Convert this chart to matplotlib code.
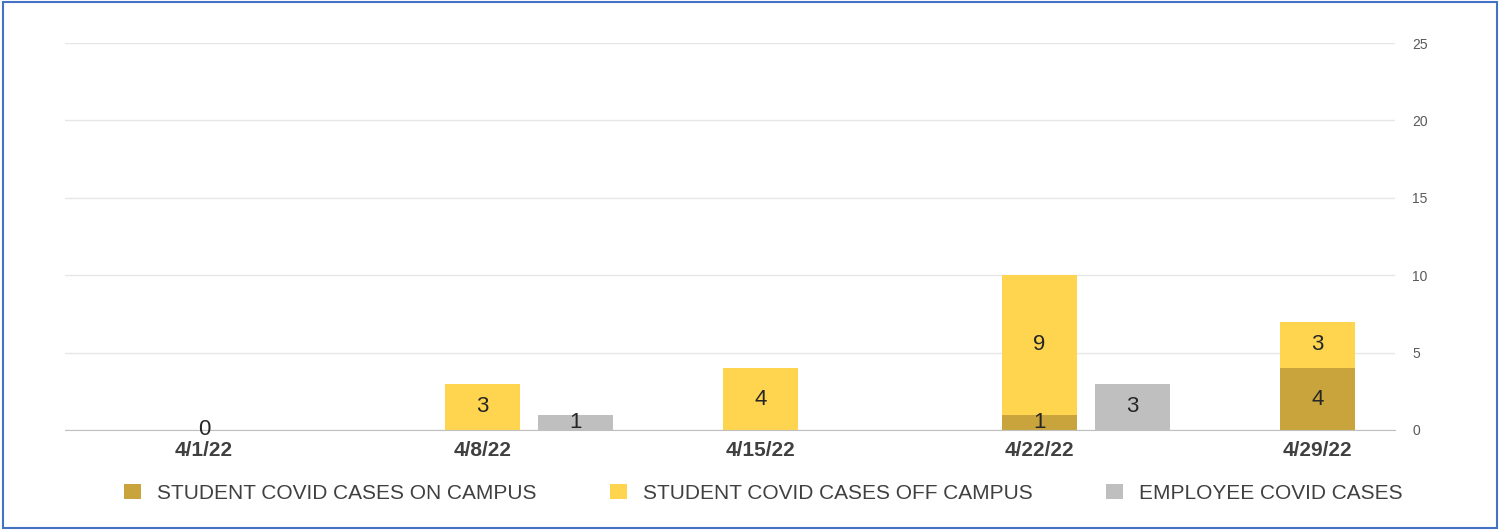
import numpy as np
import matplotlib.pyplot as plt
from matplotlib.patches import Rectangle

plt.rcParams['font.family'] = 'Liberation Sans'

dates = ['4/1/22', '4/8/22', '4/15/22', '4/22/22', '4/29/22']
on_campus = [0, 0, 0, 1, 4]
off_campus = [0, 3, 4, 9, 3]
employee = [0, 1, 0, 3, 0]

c_on = '#C9A43C'
c_off = '#FFD54F'
c_emp = '#BFBFBF'

fig = plt.figure(figsize=(15, 5.3), dpi=100)
ax = fig.add_axes([0.0433, 0.1887, 0.887, 0.730])

x = np.arange(len(dates))
w = 0.27
ax.bar(x, on_campus, w, color=c_on, label='STUDENT COVID CASES ON CAMPUS', zorder=2)
ax.bar(x, off_campus, w, bottom=on_campus, color=c_off, label='STUDENT COVID CASES OFF CAMPUS', zorder=2)
ax.bar(x + 0.335, employee, w, color=c_emp, label='EMPLOYEE COVID CASES', zorder=2)

lab = dict(ha='center', va='center', fontsize=16, color='#262626', zorder=3)
for i in range(len(dates)):
    if on_campus[i] > 0 or i == 0:
        ax.text(x[i], on_campus[i] / 2, str(on_campus[i]), **lab)
    if off_campus[i] > 0:
        ax.text(x[i], on_campus[i] + off_campus[i] / 2, str(off_campus[i]), **lab)
    if employee[i] > 0:
        ax.text(x[i] + 0.335, employee[i] / 2, str(employee[i]), **lab)

ax.set_xlim(-0.5, 4.28)
ax.set_ylim(0, 25)
ax.set_yticks(range(0, 26, 5))
ax.yaxis.tick_right()
ax.tick_params(axis='y', length=0, labelsize=10, labelcolor='#595959', pad=12)
ax.set_xticks(x)
ax.set_xticklabels(dates, fontsize=15, fontweight='bold', color='#404040')
ax.tick_params(axis='x', length=0, pad=8)
ax.grid(axis='y', color='#E6E6E6', linewidth=1, zorder=0)
for s in ['top', 'left', 'right']:
    ax.spines[s].set_visible(False)
ax.spines['bottom'].set_color('#BFBFBF')

ax.legend(loc='upper center', bbox_to_anchor=(0.525, -0.09), ncol=3, frameon=False,
          fontsize=15, handlelength=0.8, handleheight=0.8, columnspacing=3.5,
          labelcolor='#404040')

fig.patches.append(Rectangle((0.002, 0.003), 0.996, 0.994, transform=fig.transFigure,
                             fill=False, edgecolor='#4472C4', linewidth=1.5))
fig.savefig('out.png')
